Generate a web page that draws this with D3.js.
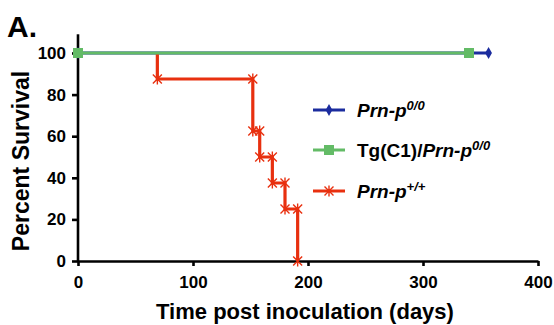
<!DOCTYPE html>
<html><head><meta charset="utf-8">
<script src="https://cdn.jsdelivr.net/npm/d3@7"></script>
<style>body{margin:0;background:#fff}svg{display:block;font-family:"Liberation Sans",Arial,sans-serif;font-weight:bold}</style>
</head><body>
<svg id="c" width="554" height="325"></svg>
<script>
const xTicks = [0, 100, 200, 300, 400];
const yTicks = [0, 20, 40, 60, 80, 100];
const blueTimes = [0, 357];
const blueSurv = [100, 100];
const greenTimes = [0, 340];
const greenSurv = [100, 100];
const redTimes = [69, 69, 152, 152, 158, 158, 169, 169, 180, 180, 191, 191];
const redSurv  = [100, 87.5, 87.5, 62.5, 62.5, 50, 50, 37.5, 37.5, 25, 25, 0];
const seriesNames = ["Prn-p", "Tg(C1)/", "Prn-p"];

const svg = d3.select("#c");
const x = d3.scaleLinear().domain([0, 400]).range([78, 538]);
const y = d3.scaleLinear().domain([0, 100]).range([261, 53]);

const xAxis = svg.append("g").attr("transform", `translate(0,${y(0)})`)
  .call(d3.axisBottom(x).tickValues(xTicks).tickSize(5).tickSizeOuter(0).tickPadding(6));
const yAxis = svg.append("g").attr("transform", `translate(${x(0)},0)`)
  .call(d3.axisLeft(y).tickValues(yTicks).tickSize(6).tickSizeOuter(0).tickPadding(6));
[xAxis, yAxis].forEach(a => {
  a.selectAll("path").attr("stroke", "#000").attr("stroke-width", 2.6);
  a.selectAll("line").attr("stroke", "#000").attr("stroke-width", 2.6);
  a.selectAll("text").attr("font-size", 17).attr("font-weight", "bold").attr("fill", "#000")
    .attr("font-family", '"Liberation Sans",Arial,sans-serif');
});
yAxis.select(".domain").attr("d", `M0,${y(0)}V${y(109)}`);
xAxis.selectAll("text").attr("dy", "0.95em");

const line = d3.line().x(d => x(d[0])).y(d => y(d[1]));
const blue = "#1b2c9e", green = "#63bb66", red = "#e8300f";
const mk = (t, s) => t.map((v, i) => [v, s[i]]);

function diamond(g, px, py, c) {
  g.append("path").attr("d", d3.symbol().type(d3.symbolDiamond).size(40)())
   .attr("transform", `translate(${px},${py})`).attr("fill", c);
}
function square(g, px, py, c) {
  g.append("rect").attr("x", px - 5).attr("y", py - 5).attr("width", 10).attr("height", 10).attr("fill", c);
}
function star(g, px, py, c) {
  const r = 4.5;
  g.append("path").attr("d", `M${px-r},${py-r}L${px+r},${py+r}M${px-r},${py+r}L${px+r},${py-r}M${px},${py-r-1}V${py+r+1}`)
   .attr("stroke", c).attr("stroke-width", 1.4).attr("fill", "none");
}

const plot = svg.append("g");
const bd = mk(blueTimes, blueSurv);
plot.append("path").datum(bd).attr("d", line).attr("stroke", blue).attr("stroke-width", 3).attr("fill", "none");
bd.forEach(d => diamond(plot, x(d[0]), y(d[1]), blue));

const rd = mk(redTimes, redSurv);
plot.append("path").datum(rd).attr("d", line).attr("stroke", red).attr("stroke-width", 3.2).attr("fill", "none");
rd.slice(1).forEach(d => star(plot, x(d[0]), y(d[1]), red));

const gd = mk(greenTimes, greenSurv);
plot.append("path").datum(gd).attr("d", line).attr("stroke", green).attr("stroke-width", 3.2).attr("fill", "none");
gd.forEach(d => square(plot, x(d[0]), y(d[1]), green));

const lg = svg.append("g");
const rows = [{c: blue, m: diamond, y: 110}, {c: green, m: square, y: 150}, {c: red, m: star, y: 191}];
rows.forEach(r => {
  lg.append("line").attr("x1", 313).attr("x2", 345).attr("y1", r.y).attr("y2", r.y)
    .attr("stroke", r.c).attr("stroke-width", 3);
  r.m(lg, 329, r.y, r.c);
});
function legendText(yy, parts) {
  const t = lg.append("text").attr("x", 357).attr("y", yy + 7).attr("font-size", 19);
  parts.forEach(p => {
    const s = t.append("tspan").text(p.t);
    if (p.i) s.attr("font-style", "italic");
    if (p.sup) s.attr("font-size", 13).attr("dy", -7);
  });
}
legendText(110, [{t: seriesNames[0], i: 1}, {t: "0/0", i: 1, sup: 1}]);
legendText(150, [{t: seriesNames[1]}, {t: "Prn-p", i: 1}, {t: "0/0", i: 1, sup: 1}]);
legendText(191, [{t: seriesNames[2], i: 1}, {t: "+/+", i: 1, sup: 1}]);

svg.append("text").attr("x", 7).attr("y", 37).attr("font-size", 30).text("A.");
svg.append("text").attr("x", 305).attr("y", 319).attr("text-anchor", "middle").attr("font-size", 22)
  .text("Time post inoculation (days)");
svg.append("text").attr("transform", "translate(29,161) rotate(-90)").attr("text-anchor", "middle")
  .attr("font-size", 23).text("Percent Survival");
</script>
</body></html>
